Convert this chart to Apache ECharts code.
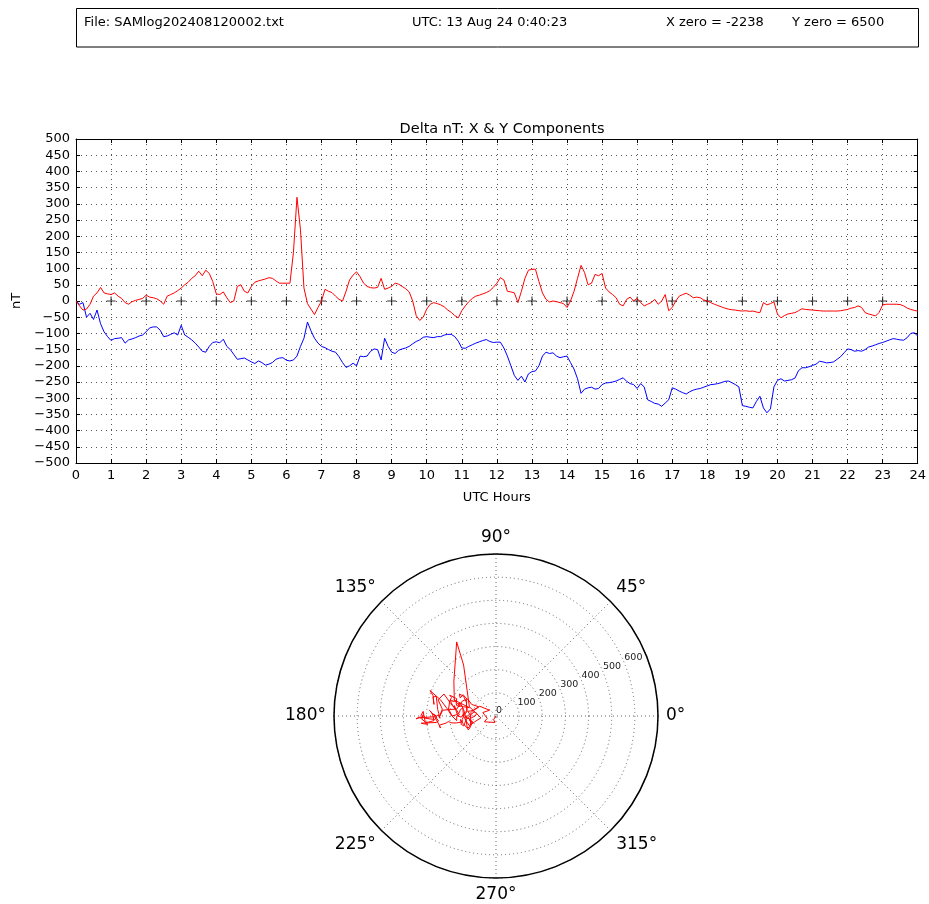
<!DOCTYPE html>
<html><head><meta charset="utf-8">
<script src="https://cdn.jsdelivr.net/npm/echarts@6/dist/echarts.min.js"></script>
<style>html,body{margin:0;padding:0;background:#fff}#c{width:929px;height:904px}</style>
</head><body><div id="c"></div>
<script>
// ---- data ----
const hours = [
0,0.1,0.2,0.3,0.4,0.5,0.6,0.7,0.8,0.9,
1,1.1,1.2,1.3,1.4,1.5,1.6,1.7,1.8,1.9,
2,2.1,2.2,2.3,2.4,2.5,2.6,2.7,2.8,2.9,
3,3.1,3.2,3.3,3.4,3.5,3.6,3.7,3.8,3.9,
4,4.1,4.2,4.3,4.4,4.5,4.6,4.7,4.8,4.9,
5,5.1,5.2,5.3,5.4,5.5,5.6,5.7,5.8,5.9,
6,6.1,6.2,6.3,6.4,6.5,6.6,6.7,6.8,6.9,
7,7.1,7.2,7.3,7.4,7.5,7.6,7.7,7.8,7.9,
8,8.1,8.2,8.3,8.4,8.5,8.6,8.7,8.8,8.9,
9,9.1,9.2,9.3,9.4,9.5,9.6,9.7,9.8,9.9,
10,10.1,10.2,10.3,10.4,10.5,10.6,10.7,10.8,10.9,
11,11.1,11.2,11.3,11.4,11.5,11.6,11.7,11.8,11.9,
12,12.1,12.2,12.3,12.4,12.5,12.6,12.7,12.8,12.9,
13,13.1,13.2,13.3,13.4,13.5,13.6,13.7,13.8,13.9,
14,14.1,14.2,14.3,14.4,14.5,14.6,14.7,14.8,14.9,
15,15.1,15.2,15.3,15.4,15.5,15.6,15.7,15.8,15.9,
16,16.1,16.2,16.3,16.4,16.5,16.6,16.7,16.8,16.9,
17,17.1,17.2,17.3,17.4,17.5,17.6,17.7,17.8,17.9,
18,18.1,18.2,18.3,18.4,18.5,18.6,18.7,18.8,18.9,
19,19.1,19.2,19.3,19.4,19.5,19.6,19.7,19.8,19.9,
20,20.1,20.2,20.3,20.4,20.5,20.6,20.7,20.8,20.9,
21,21.1,21.2,21.3,21.4,21.5,21.6,21.7,21.8,21.9,
22,22.1,22.2,22.3,22.4,22.5,22.6,22.7,22.8,22.9,
23,23.1,23.2,23.3,23.4,23.5,23.6,23.7,23.8,23.9,
24];

// X component (red), nT
const xComp = [
0,-15,-28,-25,-10,15,25,42,25,22,
20,25,15,8,-5,-10,-2,2,5,8,
18,12,10,7,0,-10,15,20,25,32,
40,50,58,70,78,92,78,95,85,60,
22,20,28,10,-5,0,45,50,30,25,
45,58,62,65,68,72,70,62,55,55,
55,55,150,320,220,40,-8,-25,-42,-20,
0,36,30,26,15,5,0,30,65,80,
90,75,55,45,41,40,42,70,36,40,
45,55,52,45,38,28,0,-45,-60,-50,
-25,-10,-5,-8,-12,-18,-28,-35,-45,-52,
-30,-15,-2,8,15,18,22,26,32,42,
55,72,65,30,28,25,-5,30,70,95,
98,98,60,25,5,-3,0,-2,-5,-8,
-20,0,30,70,110,88,50,55,82,78,
85,40,28,20,10,-10,-15,5,12,0,
8,-5,-15,-10,-5,5,-10,0,20,-30,
-20,0,15,20,24,18,10,12,10,3,
0,-5,-10,-14,-18,-22,-25,-27,-28,-30,
-31,-30,-32,-31,-34,-36,-5,-12,-8,-3,
-40,-52,-45,-40,-38,-36,-30,-24,-26,-27,
-28,-29,-30,-31,-31,-31,-31,-31,-30,-28,
-26,-22,-20,-15,-20,-36,-40,-43,-46,-35,
-12,-10,-10,-10,-10,-11,-15,-22,-26,-29,
-31];

// Y component (blue), nT
const yComp = [
0,-10,-5,-50,-38,-57,-28,-70,-95,-110,
-122,-116,-115,-113,-130,-120,-117,-113,-108,-105,
-95,-83,-80,-80,-90,-110,-108,-103,-98,-105,
-75,-105,-112,-120,-130,-142,-155,-158,-140,-128,
-126,-129,-118,-140,-150,-165,-180,-178,-176,-182,
-188,-193,-185,-190,-198,-195,-190,-180,-176,-175,
-183,-185,-182,-170,-140,-115,-65,-92,-115,-130,
-140,-144,-150,-155,-158,-172,-190,-205,-200,-192,
-200,-170,-172,-170,-155,-148,-150,-182,-115,-140,
-158,-162,-152,-148,-145,-140,-132,-125,-120,-112,
-110,-112,-113,-110,-110,-105,-103,-103,-110,-124,
-145,-146,-140,-135,-130,-126,-122,-119,-125,-128,
-127,-127,-145,-170,-200,-230,-245,-232,-250,-225,
-218,-216,-200,-170,-158,-162,-160,-170,-175,-172,
-170,-190,-210,-240,-285,-272,-268,-266,-272,-270,
-258,-253,-252,-250,-247,-242,-237,-248,-255,-258,
-270,-255,-265,-305,-310,-316,-318,-325,-315,-305,
-268,-272,-278,-283,-287,-280,-275,-272,-270,-266,
-262,-258,-257,-255,-252,-248,-247,-252,-258,-265,
-323,-325,-328,-330,-310,-294,-330,-345,-333,-265,
-245,-240,-247,-245,-243,-238,-215,-206,-206,-203,
-199,-195,-186,-188,-191,-190,-188,-180,-172,-160,
-148,-150,-155,-153,-155,-150,-142,-139,-135,-131,
-128,-124,-120,-116,-118,-120,-121,-113,-100,-98,
-108];

const plusHours = [1,2,3,4,5,6,7,8,9,10,11,12,13,14,15,16,17,18,19,20,21,22,23];

const headerFile = 'File: SAMlog202408120002.txt';
const headerUtc = 'UTC: 13 Aug 24 0:40:23';
const headerX = 'X zero = -2238';
const headerY = 'Y zero = 6500';
const chartTitle = 'Delta nT: X & Y Components';

// ---- chart ----
const FONT = 'DejaVu Sans';
const minus = v => v < 0 ? '\u2212' + Math.abs(v) : String(v);

// polar plot: horizontal = Y component, vertical = X component
const polarData = hours.map((h, i) => {
  const px = yComp[i], py = xComp[i];
  const r = Math.sqrt(px * px + py * py);
  let a = Math.atan2(py, px) * 180 / Math.PI;
  if (a < 0) a += 360;
  return [r, a];
});

const chart = echarts.init(document.getElementById('c'), null, {renderer: 'canvas'});
const dotted = {color: '#555', type: [1, 4], width: 1};
const frame = {color: '#000', width: 1};

const option = {
  animation: false,
  backgroundColor: '#fff',
  textStyle: {fontFamily: FONT},
  title: {
    text: chartTitle, left: 497, top: 117, textAlign: 'center',
    textStyle: {fontSize: 14.5, fontWeight: 'normal', color: '#000', fontFamily: FONT}
  },
  grid: {left: 76, top: 139, width: 843, height: 324, containLabel: false},
  xAxis: [{
    type: 'value', min: 0, max: 24, interval: 1, position: 'bottom',
    name: 'UTC Hours', nameLocation: 'middle', nameGap: 28,
    nameTextStyle: {fontSize: 13, color: '#000', fontFamily: FONT},
    axisLine: {show: true, onZero: false, lineStyle: frame},
    axisTick: {show: true, inside: true, length: 4, lineStyle: frame},
    axisLabel: {fontSize: 13, color: '#000', margin: 6, fontFamily: FONT},
    splitLine: {show: true, lineStyle: dotted}
  }, {
    type: 'value', min: 0, max: 24, interval: 1, position: 'top',
    axisLine: {show: true, onZero: false, lineStyle: frame},
    axisTick: {show: true, inside: true, length: 4, lineStyle: frame},
    axisLabel: {show: false}, splitLine: {show: false}
  }],
  yAxis: [{
    type: 'value', min: -500, max: 500, interval: 50, position: 'left',
    name: 'nT', nameLocation: 'middle', nameGap: 50, nameRotate: 90,
    nameTextStyle: {fontSize: 13, color: '#000', fontFamily: FONT},
    axisLine: {show: true, onZero: false, lineStyle: frame},
    axisTick: {show: true, inside: true, length: 4, lineStyle: frame},
    axisLabel: {fontSize: 13, color: '#000', margin: 6, fontFamily: FONT, formatter: minus},
    splitLine: {show: true, lineStyle: dotted}
  }, {
    type: 'value', min: -500, max: 500, interval: 50, position: 'right',
    axisLine: {show: true, onZero: false, lineStyle: frame},
    axisTick: {show: true, inside: true, length: 4, lineStyle: frame},
    axisLabel: {show: false}, splitLine: {show: false}
  }],
  polar: [{center: [496, 716], radius: 162}, {center: [496, 716], radius: 162}],
  angleAxis: [{
    polarIndex: 0, type: 'value', min: 0, max: 360, interval: 45, startAngle: 0, clockwise: false,
    axisLine: {show: true, lineStyle: {color: '#000', width: 1.5}},
    axisTick: {show: false},
    axisLabel: {fontSize: 17, color: '#000', margin: 8, fontFamily: FONT,
      formatter: v => v >= 360 ? '' : v + '\u00b0'},
    splitLine: {show: true, lineStyle: {color: '#666', type: [1, 3], width: 1}}
  }, {
    polarIndex: 1, type: 'value', min: 0, max: 360, interval: 45, startAngle: 22.5, clockwise: false,
    axisLine: {show: false}, axisTick: {show: false}, axisLabel: {show: false}, splitLine: {show: false}
  }],
  radiusAxis: [{
    polarIndex: 0, type: 'value', min: 0, max: 700, interval: 100,
    axisLine: {show: false}, axisTick: {show: false}, axisLabel: {show: false},
    splitLine: {show: true, lineStyle: {color: '#666', type: [1, 3], width: 1}}
  }, {
    polarIndex: 1, type: 'value', min: 0, max: 700, interval: 100,
    axisLine: {show: false}, axisTick: {show: false}, splitLine: {show: false},
    axisLabel: {show: true, margin: 0, align: 'left', verticalAlign: 'bottom', fontSize: 9.5,
      color: '#222', fontFamily: FONT, formatter: v => v >= 700 ? '' : String(v)}
  }],
  graphic: [
    {type: 'rect', shape: {x: 76.5, y: 8.5, width: 842, height: 38.5},
      style: {fill: 'none', stroke: '#000', lineWidth: 1}},
    {type: 'text', x: 84, y: 22.5, style: {text: headerFile, fontSize: 13, fontFamily: FONT, fill: '#000', verticalAlign: 'middle'}},
    {type: 'text', x: 412, y: 22.5, style: {text: headerUtc, fontSize: 13, fontFamily: FONT, fill: '#000', verticalAlign: 'middle'}},
    {type: 'text', x: 666, y: 22.5, style: {text: headerX, fontSize: 13, fontFamily: FONT, fill: '#000', verticalAlign: 'middle'}},
    {type: 'text', x: 792, y: 22.5, style: {text: headerY, fontSize: 13, fontFamily: FONT, fill: '#000', verticalAlign: 'middle'}}
  ],
  series: [
    {type: 'scatter', xAxisIndex: 0, yAxisIndex: 0, data: plusHours.map(h => [h, 0]),
      symbol: 'path://M4.4,0 L5.6,0 L5.6,4.4 L10,4.4 L10,5.6 L5.6,5.6 L5.6,10 L4.4,10 L4.4,5.6 L0,5.6 L0,4.4 L4.4,4.4 Z',
      symbolSize: 9, itemStyle: {color: '#000'}, silent: true, z: 1},
    {type: 'line', xAxisIndex: 0, yAxisIndex: 0, data: hours.map((h, i) => [h, yComp[i]]),
      showSymbol: false, lineStyle: {width: 1, color: '#0000ff'}, itemStyle: {color: '#0000ff'}, z: 2},
    {type: 'line', xAxisIndex: 0, yAxisIndex: 0, data: hours.map((h, i) => [h, xComp[i]]),
      showSymbol: false, lineStyle: {width: 1, color: '#ff0000'}, itemStyle: {color: '#ff0000'}, z: 3},
    {type: 'line', coordinateSystem: 'polar', polarIndex: 0, data: polarData,
      showSymbol: false, lineStyle: {width: 1, color: '#ff0000'}, itemStyle: {color: '#ff0000'}, z: 3}
  ]
};
chart.setOption(option);
</script>
</body></html>
